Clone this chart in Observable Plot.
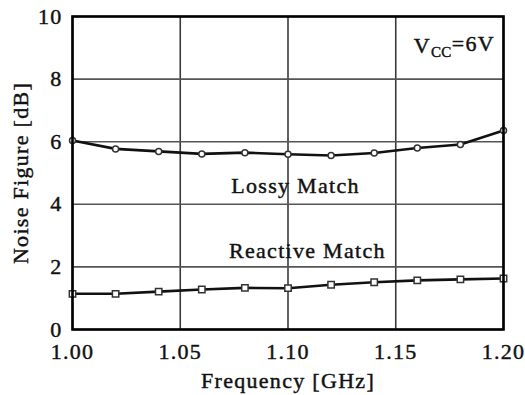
<!DOCTYPE html>
<html>
<head>
<meta charset="utf-8">
<script src="https://cdn.jsdelivr.net/npm/d3@7"></script>
<script src="https://cdn.jsdelivr.net/npm/@observablehq/plot@0.6"></script>
<style>
  html, body { margin: 0; padding: 0; background: #fff; }
</style>
</head>
<body>
<div id="chart"></div>
<script>
// Frequency sweep (GHz) and measured noise figure (dB) for the two matching networks
const freq = [1.00, 1.02, 1.04, 1.06, 1.08, 1.10, 1.12, 1.14, 1.16, 1.18, 1.20];
const lossyNF = [6.04, 5.77, 5.69, 5.61, 5.65, 5.60, 5.56, 5.64, 5.80, 5.91, 6.36];
const reactiveNF = [1.14, 1.14, 1.21, 1.28, 1.33, 1.32, 1.43, 1.51, 1.57, 1.60, 1.63];

// Axis ticks
const xTicks = [1.00, 1.05, 1.10, 1.15, 1.20];
const yTicks = [0, 2, 4, 6, 8, 10];

// In-plot annotations
const notes = [
  {x: 1.1035, y: 4.6, text: "Lossy Match"},
  {x: 1.109, y: 2.52, text: "Reactive Match"}
];
const supplyLabel = {x: 1.196, y: 9.07, text: "VCC=6V"};

const lossy = freq.map((f, i) => ({f, nf: lossyNF[i]}));
const reactive = freq.map((f, i) => ({f, nf: reactiveNF[i]}));

const serif = "Liberation Serif, DejaVu Serif, serif";

const chart = Plot.plot({
  width: 525,
  height: 395,
  marginTop: 16,
  marginBottom: 66,
  marginLeft: 72,
  marginRight: 22,
  style: {fontFamily: serif, fontSize: "22px", letterSpacing: "1.3px", color: "#111", background: "#fff"},
  x: {domain: [1.0, 1.2]},
  y: {domain: [0, 10]},
  marks: [
    Plot.gridX(xTicks, {stroke: "#3a3a3a", strokeOpacity: 1, strokeWidth: 1.6}),
    Plot.gridY(yTicks, {stroke: "#555", strokeOpacity: 1, strokeWidth: 1.6}),
    Plot.axisY(yTicks, {
      tickSize: 0, tickPadding: 10, fontSize: 22,
      label: "Noise Figure [dB]", labelAnchor: "center", labelOffset: 60, labelArrow: false
    }),
    Plot.axisX(xTicks, {
      tickSize: 0, tickPadding: 14, fontSize: 22, tickFormat: d3.format(".2f"),
      label: "Frequency [GHz]", labelAnchor: "center", labelOffset: 58, labelArrow: false
    }),
    Plot.text(notes, {x: "x", y: "y", text: "text", fontSize: 22, fill: "#111", textAnchor: "middle", lineAnchor: "middle"}),
    Plot.text([supplyLabel], {x: "x", y: "y", text: "text", fontSize: 22, fill: "#111", textAnchor: "end", lineAnchor: "middle"}),
    Plot.line(lossy, {x: "f", y: "nf", stroke: "#111", strokeWidth: 2.6}),
    Plot.line(reactive, {x: "f", y: "nf", stroke: "#111", strokeWidth: 2.6}),
    Plot.dot(lossy, {x: "f", y: "nf", r: 3, fill: "#fff", stroke: "#333", strokeWidth: 1.5}),
    Plot.dot(reactive, {x: "f", y: "nf", symbol: "square", r: 3.6, fill: "#fff", stroke: "#333", strokeWidth: 1.5}),
    Plot.frame({stroke: "#000", strokeWidth: 2.6})
  ]
});

// Serif face on every text element, with a faint outline for a heavier stroke
d3.select(chart).attr("font-family", serif).style("font-family", serif);
d3.select(chart).selectAll("g, text").attr("font-family", serif).style("font-family", serif);
d3.select(chart).selectAll("text")
  .style("stroke", "#222").style("stroke-width", "0.45px").style("paint-order", "stroke");

// Subscript "CC" in the supply-voltage label
d3.select(chart).selectAll("text")
  .filter(function () { return this.textContent === supplyLabel.text; })
  .each(function () {
    const t = d3.select(this);
    t.text(null);
    t.append("tspan").text("V");
    t.append("tspan").attr("font-size", 15).attr("dy", "0.3em").attr("letter-spacing", "0.3px").text("CC");
    t.append("tspan").attr("dy", "-0.3em").text("=6V");
  });

document.getElementById("chart").appendChild(chart);
</script>
</body>
</html>
